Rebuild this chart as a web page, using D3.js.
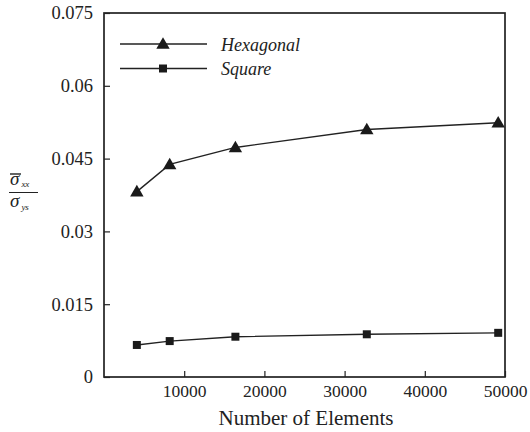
<!DOCTYPE html>
<html>
<head>
<meta charset="utf-8">
<script src="https://cdn.jsdelivr.net/npm/d3@7"></script>
<style>
  body { margin: 0; background: #fff; }
</style>
</head>
<body>
<svg id="chart"></svg>
<script>
// element counts and normalised stress for each mesh type
const elements   = [4096, 8192, 16384, 32768, 49152]
const hexagonal  = [0.0382, 0.0438, 0.0473, 0.0510, 0.0524]
const square     = [0.0066, 0.0074, 0.0083, 0.0088, 0.0091]
const xTicks     = [10000, 20000, 30000, 40000, 50000]
const yTicks     = [0, 0.015, 0.03, 0.045, 0.06, 0.075]
const yTickLabels = ['0', '0.015', '0.03', '0.045', '0.06', '0.075']

const FONT = '"Liberation Serif", "Times New Roman", Tinos'
const INK = '#222'

const W = 530, H = 432
const M = { top: 13, right: 25, bottom: 55, left: 104 }

const svg = d3.select('#chart').attr('width', W).attr('height', H)

const x = d3.scaleLinear().domain([0, 50000]).range([M.left, W - M.right])
const y = d3.scaleLinear().domain([0, 0.075]).range([H - M.bottom, M.top])

// frame
svg.append('rect')
  .attr('x', M.left).attr('y', M.top)
  .attr('width', W - M.right - M.left).attr('height', H - M.bottom - M.top)
  .attr('fill', 'none').attr('stroke', INK).attr('stroke-width', 1.7)

// x axis, ticks pointing inward
const xAxis = svg.append('g')
  .attr('transform', `translate(0,${H - M.bottom})`)
  .call(d3.axisBottom(x).tickValues(xTicks).tickSize(-6).tickPadding(8).tickFormat(d3.format('d')))
xAxis.select('.domain').remove()
xAxis.selectAll('line').attr('stroke', INK).attr('stroke-width', 1.2)
xAxis.selectAll('text').attr('fill', INK)
  .style('font-family', FONT).attr('font-size', '17.5px')

// y axis, ticks pointing inward
const yAxis = svg.append('g')
  .attr('transform', `translate(${M.left},0)`)
  .call(d3.axisLeft(y).tickValues(yTicks).tickSize(-6).tickPadding(11)
    .tickFormat((d, i) => yTickLabels[i]))
yAxis.select('.domain').remove()
yAxis.selectAll('line').attr('stroke', INK).attr('stroke-width', 1.2)
yAxis.selectAll('text').attr('fill', INK)
  .style('font-family', FONT).attr('font-size', '18.5px')

// x label
svg.append('text')
  .attr('x', 306).attr('y', 425)
  .attr('text-anchor', 'middle')
  .style('font-family', FONT).attr('font-size', '21px').attr('fill', INK)
  .text('Number of Elements')

// y label: sigma_xx (bar) over sigma_ys
const yl = svg.append('g').attr('fill', INK)
const num = yl.append('text').attr('x', 10).attr('y', 185)
  .style('font-family', FONT).attr('font-size', '19px').attr('font-style', 'italic')
num.append('tspan').text('σ')
num.append('tspan').attr('font-size', '9px').attr('dy', 2).attr('dx', 2).text('xx')
yl.append('line').attr('x1', 10).attr('x2', 21).attr('y1', 174).attr('y2', 174)
  .attr('stroke', INK).attr('stroke-width', 1.4)
yl.append('line').attr('x1', 9).attr('x2', 38).attr('y1', 192.5).attr('y2', 192.5)
  .attr('stroke', INK).attr('stroke-width', 1)
const den = yl.append('text').attr('x', 10).attr('y', 207)
  .style('font-family', FONT).attr('font-size', '19px').attr('font-style', 'italic')
den.append('tspan').text('σ')
den.append('tspan').attr('font-size', '9px').attr('dy', 3).attr('dx', 2).text('ys')

const line = d3.line().x((d, i) => x(elements[i])).y(d => y(d))

const tri = d3.symbol().type(d3.symbolTriangle).size(78)
const sq  = d3.symbol().type(d3.symbolSquare).size(64)

const series = [
  { name: 'Hexagonal', values: hexagonal, sym: tri, dy: 1 },
  { name: 'Square',    values: square,    sym: sq,  dy: 0 },
]

series.forEach(s => {
  svg.append('path').datum(s.values)
    .attr('d', line).attr('fill', 'none')
    .attr('stroke', INK).attr('stroke-width', 1.4)
  svg.append('g').selectAll('path')
    .data(s.values)
    .join('path')
      .attr('transform', (d, i) => `translate(${x(elements[i])},${y(d) + s.dy})`)
      .attr('d', s.sym)
      .attr('fill', '#1a1a1a')
})

// legend
const lg = svg.append('g')
series.forEach((s, i) => {
  const ly = 44 + i * 24.5
  lg.append('line').attr('x1', 120).attr('x2', 207).attr('y1', ly).attr('y2', ly)
    .attr('stroke', INK).attr('stroke-width', 1.4)
  lg.append('path').attr('transform', `translate(163,${ly + s.dy})`).attr('d', s.sym).attr('fill', '#1a1a1a')
  lg.append('text').attr('x', 221).attr('y', ly + 6.5)
    .style('font-family', FONT).attr('font-size', '18px').attr('font-style', 'italic')
    .attr('fill', INK)
    .text(s.name)
})
</script>
</body>
</html>
